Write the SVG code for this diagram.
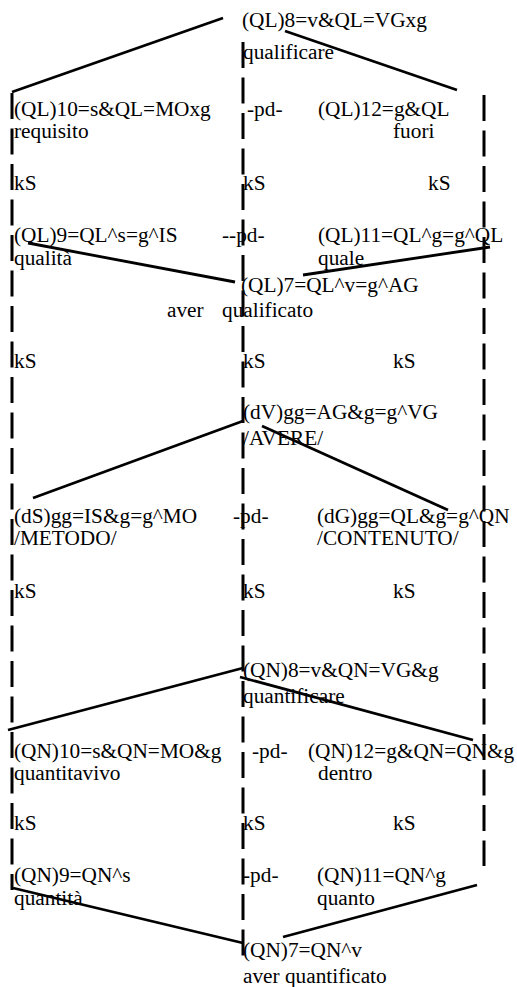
<svg xmlns="http://www.w3.org/2000/svg" width="517" height="987" viewBox="0 0 517 987">
<style>
text{font-family:'Liberation Serif',serif;font-size:21.3px;fill:#000}
.dash{stroke:#000;stroke-width:3;stroke-dasharray:26 9.5;fill:none}
.edge{stroke:#000;stroke-width:2.8;fill:none}
</style>
<rect width="517" height="987" fill="#fff"/>
<g id="dividers">
<line class="dash" x1="12" y1="93" x2="12" y2="890"/>
<line class="dash" x1="243" y1="42" x2="243" y2="963"/>
<line class="dash" x1="484" y1="95" x2="484" y2="866"/>
</g>
<g id="connectors">
<line class="edge" x1="223" y1="18" x2="12" y2="92"/>
<line class="edge" x1="285" y1="31" x2="457" y2="90"/>
<line class="edge" x1="28" y1="243" x2="235" y2="282"/>
<line class="edge" x1="303" y1="275" x2="490" y2="247"/>
<line class="edge" x1="243" y1="421" x2="33" y2="498"/>
<line class="edge" x1="262" y1="426" x2="448" y2="510"/>
<line class="edge" x1="243" y1="668" x2="8" y2="730"/>
<line class="edge" x1="240" y1="677" x2="473" y2="740"/>
<line class="edge" x1="13" y1="888" x2="243" y2="943"/>
<line class="edge" x1="283" y1="937" x2="477" y2="885"/>
</g>
<g id="QL8"><text x="242" y="27">(QL)8=v&amp;QL=VGxg</text><text x="243" y="59">qualificare</text></g>
<g id="QL10"><text x="14" y="116">(QL)10=s&amp;QL=MOxg</text><text x="14" y="138">requisito</text></g>
<g id="pd1"><text x="247" y="116">-pd-</text></g>
<g id="QL12"><text x="318" y="116">(QL)12=g&amp;QL</text><text x="393" y="138">fuori</text></g>
<g id="kS1"><text x="14" y="190">kS</text><text x="243" y="190">kS</text><text x="428" y="190">kS</text></g>
<g id="QL9"><text x="14" y="242">(QL)9=QL^s=g^IS</text><text x="14" y="265">qualità</text></g>
<g id="pd2"><text x="222" y="242">--pd-</text></g>
<g id="QL11"><text x="318" y="242">(QL)11=QL^g=g^QL</text><text x="318" y="265">quale</text></g>
<g id="QL7"><text x="241" y="292">(QL)7=QL^v=g^AG</text><text x="167" y="317">aver</text><text x="222" y="317">qualificato</text></g>
<g id="kS2"><text x="14" y="368">kS</text><text x="243" y="368">kS</text><text x="393" y="368">kS</text></g>
<g id="dV"><text x="243" y="419">(dV)gg=AG&amp;g=g^VG</text><text x="243" y="445">/AVERE/</text></g>
<g id="dS"><text x="14" y="523">(dS)gg=IS&amp;g=g^MO</text><text x="14" y="545">/METODO/</text></g>
<g id="pd3"><text x="233" y="523">-pd-</text></g>
<g id="dG"><text x="317" y="523">(dG)gg=QL&amp;g=g^QN</text><text x="317" y="545">/CONTENUTO/</text></g>
<g id="kS3"><text x="14" y="598">kS</text><text x="243" y="598">kS</text><text x="393" y="598">kS</text></g>
<g id="QN8"><text x="243" y="677">(QN)8=v&amp;QN=VG&amp;g</text><text x="243" y="703">quantificare</text></g>
<g id="QN10"><text x="14" y="758">(QN)10=s&amp;QN=MO&amp;g</text><text x="14" y="780">quantitavivo</text></g>
<g id="pd4"><text x="252" y="758">-pd-</text></g>
<g id="QN12"><text x="308" y="758">(QN)12=g&amp;QN=QN&amp;g</text><text x="318" y="780">dentro</text></g>
<g id="kS4"><text x="14" y="830">kS</text><text x="243" y="830">kS</text><text x="393" y="830">kS</text></g>
<g id="QN9"><text x="14" y="882">(QN)9=QN^s</text><text x="14" y="905">quantità</text></g>
<g id="pd5"><text x="243" y="882">-pd-</text></g>
<g id="QN11"><text x="317" y="882">(QN)11=QN^g</text><text x="317" y="905">quanto</text></g>
<g id="QN7"><text x="243" y="957">(QN)7=QN^v</text><text x="243" y="983">aver quantificato</text></g>
</svg>
